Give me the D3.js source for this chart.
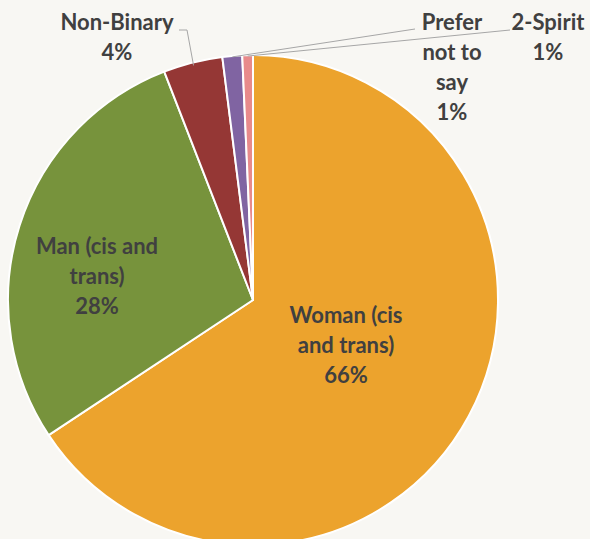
<!DOCTYPE html>
<html><head><meta charset="utf-8">
<script src="https://cdn.jsdelivr.net/npm/d3@7"></script>
<style>
html,body{margin:0;padding:0;background:#f8f7f3;}
svg{display:block;}
text{font-family:Lato,"Open Sans",sans-serif;font-weight:700;fill:#404040;}
</style></head>
<body><svg id="c" width="590" height="539"></svg>
<script>
const categories = ["Woman (cis and trans)", "Man (cis and trans)", "Non-Binary", "Prefer not to say", "2-Spirit"];
const values = [65.7, 28.4, 3.9, 1.3, 0.7];
const colors = ["#eca32d", "#77933c", "#953735", "#8064a2", "#e88a8b"];
const labelLines = [["Woman (cis", "and trans)"], ["Man (cis and", "trans)"], ["Non-Binary"], ["Prefer", "not to", "say"], ["2-Spirit"]];

const W = 590, H = 539, cx = 253, cy = 300, R = 245;
const svg = d3.select("#c");
const g = svg.append("g").attr("transform", `translate(${cx},${cy})`);

const data = categories.map((c, i) => ({ c, v: values[i], i }));
const pie = d3.pie().value(d => d.v).sort(null);
const arcs = pie(data);
const arc = d3.arc().innerRadius(0).outerRadius(R);

g.selectAll("path.s").data(arcs).join("path")
  .attr("class", "s")
  .attr("d", arc)
  .attr("fill", d => colors[d.data.i])
  .attr("stroke", "#ffffff")
  .attr("stroke-width", 2)
  .attr("stroke-linejoin", "round");

const labelPos = [
  { x: 346, y: 315, anchor: "middle" },
  { x: 97, y: 246, anchor: "middle" },
  { x: 117, y: 22, anchor: "middle" },
  { x: 452, y: 22, anchor: "middle" },
  { x: 548, y: 22, anchor: "middle" }
];
const lh = 30;
const fmt = v => Math.round(v) + "%";

function pt(a, r) { return [Math.sin(a) * r + cx, -Math.cos(a) * r + cy]; }
const leaders = [
  { i: 2, pts: a => { const p = pt(a, R - 3); return [p, [187, 30], [179, 30]]; } },
  { i: 3, pts: a => { const p = pt(a, R - 1); return [p, [415, 29]]; } },
  { i: 4, pts: a => { const p = pt(a, R - 1); return [p, [510, 30]]; } }
];
leaders.forEach(L => {
  const d = arcs[L.i];
  const mid = (d.startAngle + d.endAngle) / 2;
  svg.append("path")
    .attr("d", d3.line()(L.pts(mid)))
    .attr("fill", "none")
    .attr("stroke", "#a6a6a6")
    .attr("stroke-width", 1);
});

arcs.forEach((d, k) => {
  const p = labelPos[k];
  const lines = labelLines[k].concat([fmt(d.data.v)]);
  const t = svg.append("text")
    .attr("text-anchor", p.anchor)
    .attr("font-size", 22);
  lines.forEach((ln, j) => {
    t.append("tspan").attr("x", p.x).attr("y", p.y + j * lh).attr("dy", "0.35em").text(ln);
  });
});
</script></body></html>
